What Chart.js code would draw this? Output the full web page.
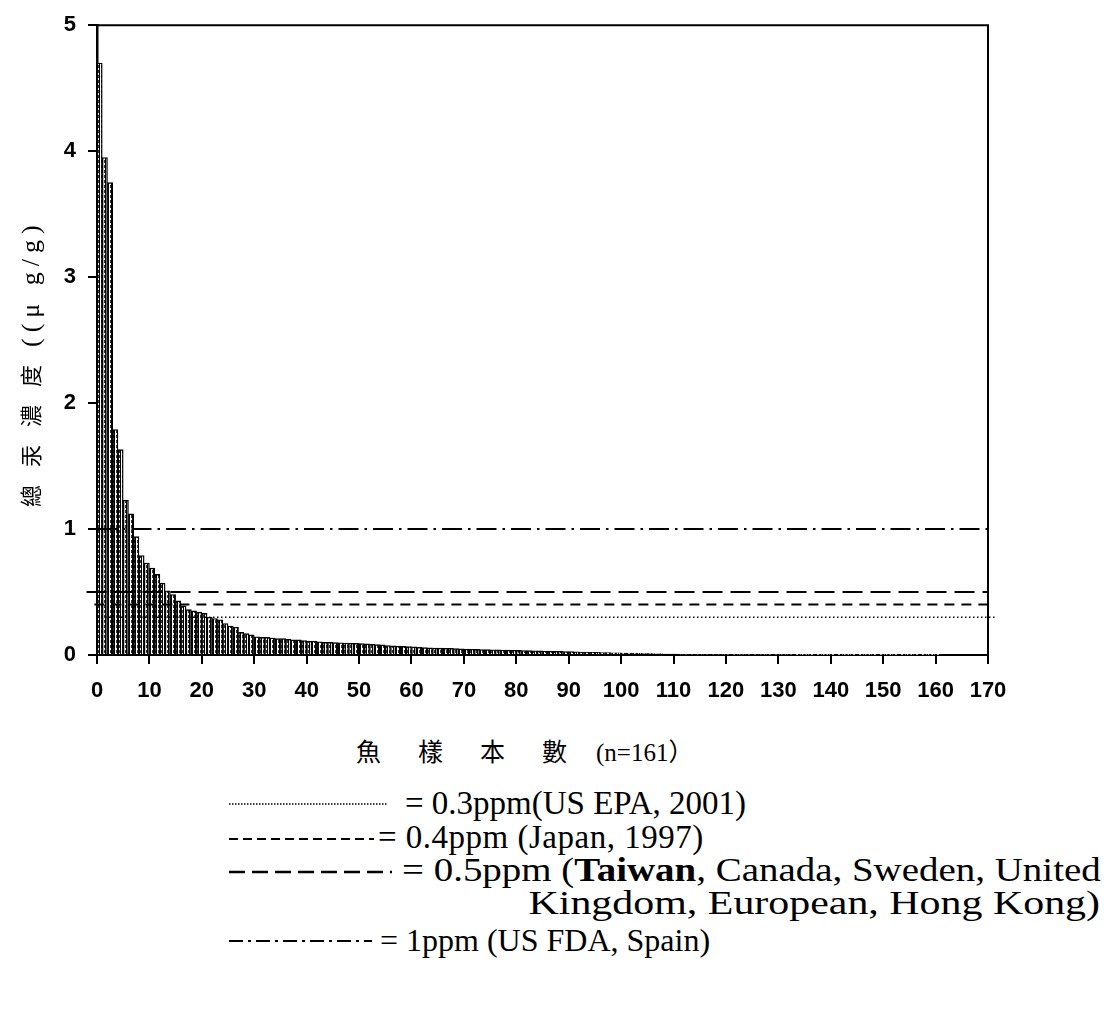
<!DOCTYPE html>
<html>
<head>
<meta charset="utf-8">
<title>魚樣總汞濃度</title>
<script src="https://cdn.jsdelivr.net/npm/chart.js@4.4.1/dist/chart.umd.min.js"></script>
<style>
  body { margin: 0; background: #fff; }
  #wrap { position: relative; width: 1112px; height: 1010px; overflow: hidden; }
  #chart { position: absolute; left: 0; top: 0; }
  .ytitle {
    position: absolute; left: 16px; top: 507px;
    transform: rotate(-90deg); transform-origin: 0 0;
    white-space: nowrap; font: 22px/26px "Noto Sans CJK TC", sans-serif; color: #000;
  }
  .ytitle .cjk { letter-spacing: 18px; }
  .ytitle .unit { font-family: "Liberation Serif", "Noto Sans CJK TC", serif; font-size: 26px; letter-spacing: 6px; }
  .xtitle {
    position: absolute; left: 356px; top: 732px;
    white-space: nowrap; font: 25px/30px "Noto Sans CJK TC", sans-serif; color: #000;
  }
  .xtitle .cjk { letter-spacing: 37px; }
  .xtitle .n { font: 25px "Liberation Serif", "Noto Sans CJK TC", serif; margin-left: -8px; }
  .leg {
    position: absolute; white-space: nowrap;
    font: 33px/32px "Liberation Serif", "Times New Roman", serif; color: #000;
  }
  .wide { transform: scaleX(1.18); transform-origin: 0 50%; }
  .wider { transform: scaleX(1.27); transform-origin: 100% 50%; }
  #samples { position: absolute; left: 0; top: 760px; }
</style>
</head>
<body>
<div id="wrap">
  <canvas id="chart" width="1112" height="720"></canvas>
  <div class="ytitle"><span class="cjk">總汞濃度</span><span class="unit">((μ g/g)</span></div>
  <div class="xtitle"><span class="cjk">魚樣本數</span><span class="n">(n=161）</span></div>

  <svg id="samples" width="1112" height="250">
    <line x1="229" y1="44" x2="388" y2="44" stroke="#000" stroke-width="1.3" stroke-dasharray="1.5 1.5"/>
    <line x1="229" y1="79" x2="374" y2="79" stroke="#000" stroke-width="2" stroke-dasharray="9 5"/>
    <line x1="229" y1="112" x2="392" y2="112" stroke="#000" stroke-width="2.5" stroke-dasharray="16 7"/>
    <line x1="229" y1="181" x2="372" y2="181" stroke="#000" stroke-width="2" stroke-dasharray="14 5 3 5"/>
  </svg>
  <div class="leg" style="left:405px; top:787px;">= 0.3ppm(US EPA, 2001)</div>
  <div class="leg" style="left:378px; top:821px; letter-spacing:0.5px;">= 0.4ppm (Japan, 1997)</div>
  <div class="leg wide" style="left:402px; top:854px;">= 0.5ppm (<b>Taiwan</b>, Canada, Sweden, United</div>
  <div class="leg wider" style="right:12px; top:887px;">Kingdom, European, Hong Kong)</div>
  <div class="leg" style="left:380px; top:924px; font-size:32px;">= 1ppm (US FDA, Spain)</div>
</div>

<script>
// total mercury per fish sample (μg/g), sorted high to low, n = 161
const sampleValues = [
  4.70, 3.95, 3.75, 1.79, 1.63, 1.23, 1.12, 0.94, 0.79, 0.73,
  0.69, 0.64, 0.57, 0.51, 0.48, 0.43, 0.39, 0.36, 0.35, 0.34,
  0.33, 0.30, 0.29, 0.28, 0.25, 0.23, 0.22, 0.18, 0.17, 0.16,
  0.145, 0.14, 0.14, 0.135, 0.13, 0.13, 0.125, 0.12, 0.12, 0.115,
  0.11, 0.11, 0.105, 0.10, 0.10, 0.098, 0.097, 0.095, 0.093, 0.092,
  0.09, 0.088, 0.085, 0.082, 0.08, 0.075, 0.072, 0.07, 0.068, 0.066,
  0.064, 0.06, 0.058, 0.056, 0.055, 0.054, 0.053, 0.052, 0.05, 0.048,
  0.047, 0.046, 0.045, 0.044, 0.043, 0.042, 0.041, 0.04, 0.039, 0.038,
  0.037, 0.036, 0.035, 0.034, 0.033, 0.032, 0.031, 0.03, 0.029, 0.028,
  0.027, 0.025, 0.024, 0.023, 0.022, 0.021, 0.02, 0.019, 0.018, 0.017,
  0.016, 0.015, 0.014, 0.013, 0.012, 0.011, 0.010, 0.009, 0.008, 0.008,
  0.008, 0.007, 0.007, 0.007, 0.007, 0.006, 0.006, 0.006, 0.006, 0.006,
  0.005, 0.005, 0.005, 0.005, 0.005, 0.005, 0.004, 0.004, 0.004, 0.004,
  0.004, 0.004, 0.004, 0.003, 0.003, 0.003, 0.003, 0.003, 0.003, 0.003,
  0.003, 0.002, 0.002, 0.002, 0.002, 0.002, 0.002, 0.002, 0.002, 0.002,
  0.001, 0.001, 0.001, 0.001, 0.001, 0.001, 0.001, 0.001, 0.001, 0.001,
  0.001
];

// regulatory limits (ppm)
const limitNames = ["US EPA, 2001", "Japan, 1997", "Taiwan etc.", "US FDA, Spain"];
const limitValues = [0.3, 0.4, 0.5, 1];

const xMax = 170;
const yMax = 5;

const limitStyle = [
  { dash: [1.5, 2.5], width: 1.6, from: 0, to: 171.5 },
  { dash: [10, 7], width: 2, from: -0.5, to: 170 },
  { dash: [20, 8], width: 2.2, from: -2, to: 170 },
  { dash: [20, 6, 2.5, 6], width: 2, from: 0, to: 170 },
];

// vertical hatch fill for the bars
function stripes() {
  const c = document.createElement("canvas");
  c.width = 3;
  c.height = 5;
  const g = c.getContext("2d");
  g.fillStyle = "#fff";
  g.fillRect(0, 0, 3, 5);
  g.fillStyle = "#000";
  g.fillRect(0, 0, 1, 5);
  g.fillStyle = "#333";
  g.fillRect(2, 0, 1, 3);
  return g.createPattern(c, "repeat");
}

// closes the plot box on top and right
const frame = {
  id: "frame",
  afterDraw(chart) {
    const { ctx, chartArea: a } = chart;
    ctx.save();
    ctx.strokeStyle = "#000";
    ctx.lineWidth = 2;
    ctx.beginPath();
    ctx.moveTo(a.left, a.top);
    ctx.lineTo(a.right, a.top);
    ctx.lineTo(a.right, a.bottom);
    ctx.stroke();
    ctx.restore();
  },
};

const tickFont = { family: "Liberation Sans", size: 22, weight: "bold" };

new Chart(document.getElementById("chart"), {
  data: {
    datasets: [
      {
        type: "bar",
        label: "總汞濃度",
        data: sampleValues.map((v, i) => ({ x: i + 0.5, y: v })),
        backgroundColor: stripes(),
        borderColor: "#000",
        borderWidth: 1.4,
        borderSkipped: "start",
        barPercentage: 1,
        categoryPercentage: 1,
        order: 1,
      },
      ...limitValues.map((v, i) => ({
        type: "line",
        label: limitNames[i],
        data: [
          { x: limitStyle[i].from, y: v },
          { x: limitStyle[i].to, y: v },
        ],
        borderColor: "#000",
        borderWidth: limitStyle[i].width,
        borderDash: limitStyle[i].dash,
        pointRadius: 0,
        clip: false,
        order: 0,
      })),
    ],
  },
  options: {
    responsive: false,
    animation: false,
    layout: { padding: { left: 0, top: 19, right: 124, bottom: 15 } },
    plugins: { legend: { display: false }, tooltip: { enabled: false } },
    scales: {
      x: {
        type: "linear",
        min: 0,
        max: xMax,
        offset: false,
        ticks: { stepSize: 10, color: "#000", font: tickFont, padding: 14, maxRotation: 0, autoSkip: false },
        grid: { drawOnChartArea: false, drawTicks: true, tickLength: 9, color: "#000", lineWidth: 2, offset: false },
        border: { color: "#000", width: 2 },
        afterFit(s) { s.height = 50; },
      },
      y: {
        min: 0,
        max: yMax,
        ticks: { stepSize: 1, color: "#000", font: tickFont, padding: 12 },
        grid: { drawOnChartArea: false, drawTicks: true, tickLength: 9, color: "#000", lineWidth: 2 },
        border: { color: "#000", width: 2.5 },
        afterFit(s) { s.width = 97; },
      },
    },
  },
  plugins: [frame],
});
</script>
</body>
</html>
